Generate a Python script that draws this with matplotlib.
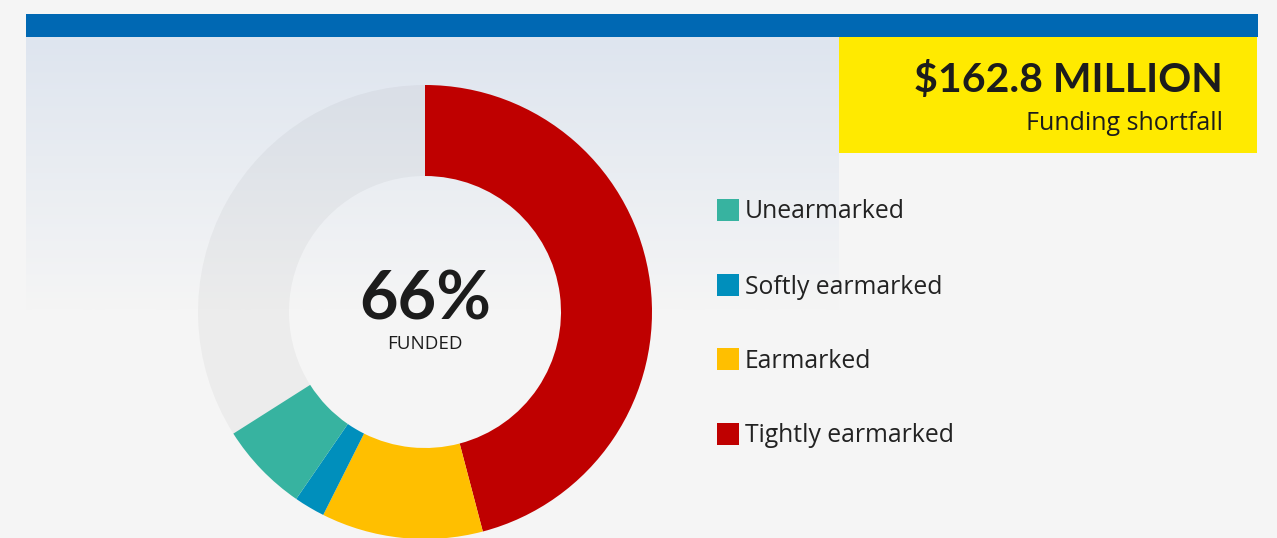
import numpy as np
import matplotlib
matplotlib.use('Agg')
import matplotlib.pyplot as plt
from matplotlib.patches import Rectangle

plt.rcParams['font.family'] = ['Lato', 'DejaVu Sans']
REG = ['Open Sans', 'DejaVu Sans']

# funding breakdown, percent of requirement
categories = ['Unearmarked', 'Softly earmarked', 'Earmarked', 'Tightly earmarked']
shares = [6.4, 2.2, 11.5, 45.9]
colors = ['#37b3a0', '#008fbc', '#ffbf00', '#bf0000']
funded_label = '66%'
shortfall_text = '$162.8 MILLION'
shortfall_caption = 'Funding shortfall'

W, H = 1277, 538
BG = '#f5f5f5'

fig = plt.figure(figsize=(W / 100, H / 100), dpi=100)
fig.patch.set_facecolor(BG)
ax = fig.add_axes([0, 0, 1, 1])
ax.set_facecolor(BG)

# soft blue-grey gradient panel behind the donut
top = np.array(matplotlib.colors.to_rgb('#dee5ef'))
bot = np.array(matplotlib.colors.to_rgb(BG))
t = np.linspace(0, 1, 256)[:, None]
grad = (top * (1 - t) + bot * t)[:, None, :]
ax.imshow(grad, extent=[26, 839, H - 310, H - 37], aspect='auto', zorder=0,
          interpolation='bilinear')

# donut: clockwise from the top, tightest earmarking first
vals = shares[::-1] + [100 - sum(shares)]
cols = colors[::-1] + [(0, 0, 0, 0.035)]
ax.pie(vals, colors=cols, startangle=90, counterclock=False,
       center=(425, H - 312), radius=227,
       wedgeprops=dict(width=91, linewidth=0), frame=True)

ax.text(425, H - 300, funded_label, ha='center', va='center', fontsize=48,
        fontweight='bold', color='#1c1c1c')
ax.text(425, H - 344, 'FUNDED', ha='center', va='center', fontsize=13.5,
        color='#1c1c1c', family=REG)

# header bar and shortfall box
ax.add_patch(Rectangle((26, H - 37), 1232, 23, color='#0068b3', zorder=3, lw=0))
ax.add_patch(Rectangle((839, H - 153), 418, 116, color='#ffea00', zorder=3, lw=0))
ax.text(1223, H - 80, shortfall_text, ha='right', va='center', fontsize=29.5,
        fontweight='bold', color='#1c1c1c', zorder=4)
ax.text(1223, H - 123, shortfall_caption, ha='right', va='center', fontsize=18,
        color='#1c1c1c', zorder=4, family=REG)

# legend
legend_y = [210, 285, 359, 434]
for name, c, y in zip(categories, colors, legend_y):
    ax.add_patch(Rectangle((717, H - y - 11), 22, 22, color=c, lw=0, zorder=3))
    ax.text(745, H - y - 2, name, ha='left', va='center', fontsize=17.8,
            color='#222222', zorder=3, family=REG)

ax.set_xlim(0, W)
ax.set_ylim(0, H)
ax.set_aspect('auto')
ax.axis('off')

fig.savefig('out.png', dpi=100, facecolor=BG)
